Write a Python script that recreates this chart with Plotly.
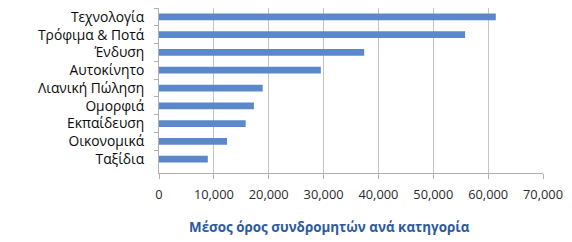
import plotly.graph_objects as go

categories = ["Τεχνολογία", "Τρόφιμα & Ποτά", "Ένδυση", "Αυτοκίνητο", "Λιανική Πώληση",
              "Ομορφιά", "Εκπαίδευση", "Οικονομικά", "Ταξίδια"]
values = [61400, 55800, 37400, 29500, 18900, 17300, 15800, 12400, 8900]
x_ticks = [0, 10000, 20000, 30000, 40000, 50000, 60000, 70000]
title_text = "Μέσος όρος συνδρομητών ανά κατηγορία"

fig = go.Figure(go.Bar(
    x=values, y=categories, orientation="h",
    marker=dict(color="#5b88cb", line=dict(width=0)),
    width=0.38,
))

fig.update_layout(
    width=572, height=242,
    margin=dict(l=159, r=29, t=8, b=69),
    paper_bgcolor="white", plot_bgcolor="white",
    showlegend=False,
    font=dict(family="Open Sans", size=12, color="#222222"),
)
fig.update_xaxes(
    range=[0, 70000], tickvals=x_ticks, tickformat=",",
    showgrid=True, gridcolor="#c4c4c4", gridwidth=1,
    showline=True, linecolor="#b0b0b0", linewidth=1,
    ticks="outside", ticklen=5, tickcolor="#b0b0b0",
    tickfont=dict(family="Open Sans", size=12.8, color="#2a2a2a"),
    ticklabelstandoff=5,
    zeroline=False, fixedrange=True,
)
fig.update_yaxes(
    type="category", categoryorder="array", categoryarray=categories,
    range=[8.78, -0.5],
    tickson="boundaries", ticks="outside", ticklen=4, tickcolor="#b0b0b0",
    showgrid=False, showline=True, linecolor="#b0b0b0", linewidth=1,
    tickfont=dict(family="Open Sans", size=13.8, color="#0a0a0a", weight=500),
    ticklabelstandoff=11,
    fixedrange=True,
)
fig.add_annotation(
    text=title_text, xref="paper", yref="paper",
    x=(329 - 159) / 384, y=-(227.5 - 173.3) / 165.3,
    xanchor="center", yanchor="middle", showarrow=False,
    font=dict(family="Open Sans", size=13.4, color="#2c5a9e", weight="bold"),
)
fig.write_html("out.html")
